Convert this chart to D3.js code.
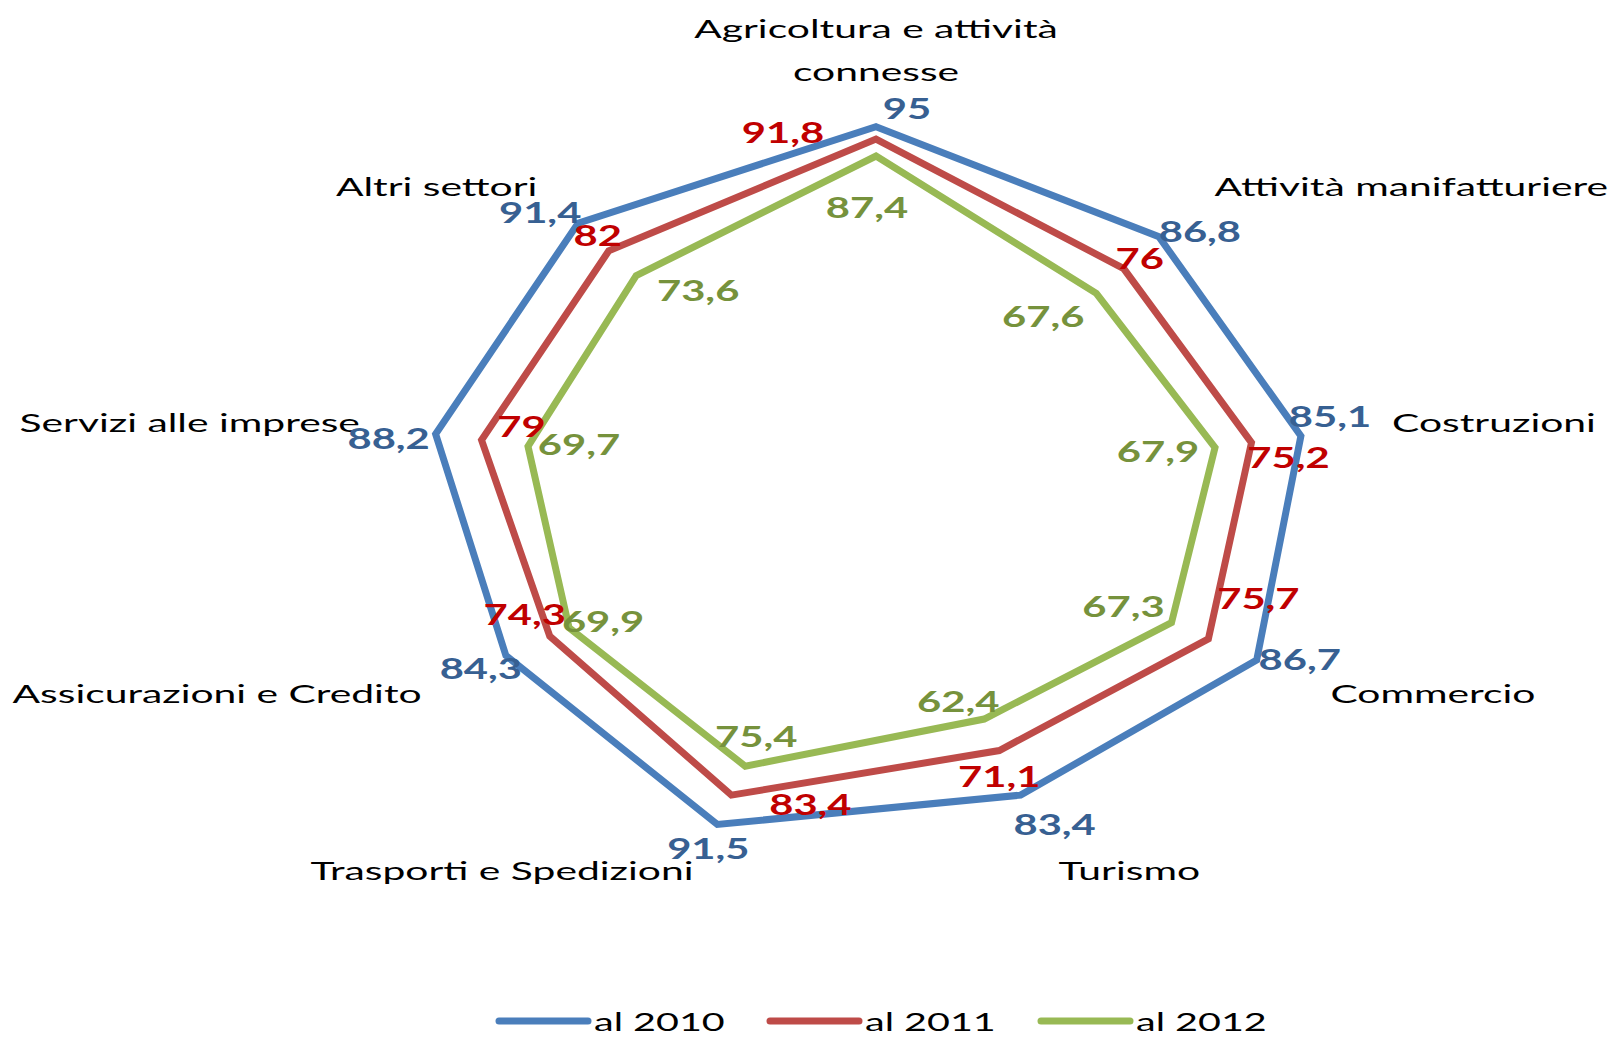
<!DOCTYPE html>
<html>
<head>
<meta charset="utf-8">
<script src="https://cdn.jsdelivr.net/npm/d3@7"></script>
<style>
  html, body { margin: 0; padding: 0; background: #ffffff; }
  svg { display: block; }
</style>
</head>
<body>
<svg id="chart" width="1619" height="1037"></svg>
<script>
// ---------- data ----------
const categories = [
  ["Agricoltura e attività", "connesse"],
  ["Attività manifatturiere"],
  ["Costruzioni"],
  ["Commercio"],
  ["Turismo"],
  ["Trasporti e Spedizioni"],
  ["Assicurazioni e Credito"],
  ["Servizi alle imprese"],
  ["Altri settori"]
];
const seriesNames = ["al 2010", "al 2011", "al 2012"];
const values2010 = [95, 86.8, 85.1, 86.7, 83.4, 91.5, 84.3, 88.2, 91.4];
const values2011 = [91.8, 76, 75.2, 75.7, 71.1, 83.4, 74.3, 79, 82];
const values2012 = [87.4, 67.6, 67.9, 67.3, 62.4, 75.4, 69.9, 69.7, 73.6];
const axisMin = 0, axisMax = 100;

// ---------- layout / style ----------
const lineColors  = ["#4A7EBB", "#BE4B48", "#98B954"];
const labelColors = ["#376092", "#C00000", "#76923C"];
// per-label nudges (px) of each data label from its vertex
const labelNudge = [
  [[31,-18],[41,-5],[29,-20],[43,-1],[34,29],[-9,24],[-25,13],[-47,5],[-38,-11]],
  [[-93,-7],[16,-10],[37,15],[50,-40],[0,26],[79,9],[-25,-22],[40,-14],[-11,-15]],
  [[-9,51],[-53,23],[-57,4],[-48,-16],[-26,-18],[11,-30],[34,-6],[51,-2],[62,15]]
];
const cx = 876, cy = 493, RX = 507, RY = 385.5;
const catSX = 1.6, legSX = 1.55, lblSX = 1.44;
const font = "Lato, 'Open Sans', sans-serif";

const svg = d3.select("#chart");
const rX = d3.scaleLinear().domain([axisMin, axisMax]).range([0, RX]);
const rY = d3.scaleLinear().domain([axisMin, axisMax]).range([0, RY]);
const ang = d3.scaleLinear().domain([0, categories.length]).range([0, 2 * Math.PI]);

const px = (i, v) => cx + rX(v) * Math.sin(ang(i));
const py = (i, v) => cy - rY(v) * Math.cos(ang(i));

const allSeries = [values2010, values2011, values2012];

const line = d3.line()
  .x((d, i) => px(i, d))
  .y((d, i) => py(i, d))
  .curve(d3.curveLinearClosed);

// polygons
svg.append("g").selectAll("path")
  .data(allSeries)
  .join("path")
  .attr("d", d => line(d))
  .attr("fill", "none")
  .attr("stroke", (d, s) => lineColors[s])
  .attr("stroke-width", 7)
  .attr("stroke-linejoin", "miter");

// horizontally stretched text helper
function sText(g, x, y, str, opts) {
  return g.append("text")
    .attr("transform", `translate(${x},${y}) scale(${opts.sx},1)`)
    .attr("text-anchor", opts.anchor || "start")
    .attr("font-family", font)
    .attr("font-size", opts.size)
    .attr("font-weight", opts.weight || "normal")
    .attr("fill", opts.fill || "#000")
    .text(str);
}

// category labels
const catG = svg.append("g");
categories.forEach((lines, i) => {
  const a = ang(i), s = Math.sin(a), c = Math.cos(a);
  const x0 = px(i, axisMax), y0 = py(i, axisMax);
  let anchor = "middle", x = x0;
  if (s > 0.01) { anchor = "start"; x = x0 + 5 + 12 * Math.abs(s); }
  else if (s < -0.01) { anchor = "end"; x = x0 - 5 - 12 * Math.abs(s); }
  let yb;
  if (c > 0.9) yb = y0 - 27 - (lines.length - 1) * 43;
  else if (c > 0.3) yb = y0 - 2;
  else if (c > -0.3) yb = y0 + 6;
  else yb = y0 + 17 + 18 * (-c - 0.5);
  lines.forEach((ln, k) => {
    sText(catG, x, yb + k * 43, ln, {anchor, size: 25.5, sx: catSX});
  });
});

// data labels
const fmt = v => String(v).replace(".", ",");
const lblG = svg.append("g");
allSeries.forEach((vals, s) => {
  vals.forEach((v, i) => {
    const n = labelNudge[s][i];
    sText(lblG, px(i, v) + n[0], py(i, v) + n[1] + 10.5, fmt(v),
      {anchor: "middle", size: 29, weight: "bold", fill: labelColors[s], sx: lblSX});
  });
});

// legend
const legG = svg.append("g");
seriesNames.forEach((name, s) => {
  const lx = 499 + s * 271;
  legG.append("line")
    .attr("x1", lx).attr("x2", lx + 89)
    .attr("y1", 1021).attr("y2", 1021)
    .attr("stroke", lineColors[s])
    .attr("stroke-width", 7)
    .attr("stroke-linecap", "round");
  sText(legG, lx + 95, 1031, name, {anchor: "start", size: 25.5, sx: legSX});
});
</script>
</body>
</html>
